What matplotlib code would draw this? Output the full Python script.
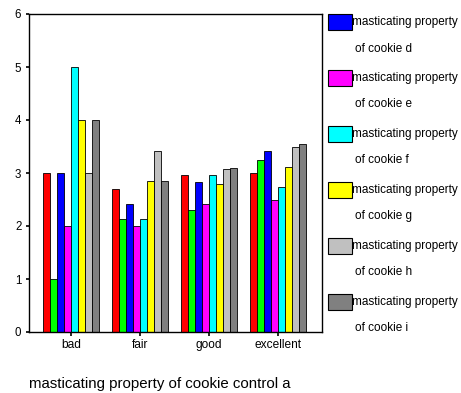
import matplotlib
matplotlib.use("Agg")
import matplotlib.pyplot as plt
import numpy as np
from matplotlib.patches import Rectangle

plt.rcParams['font.family'] = ['Liberation Sans', 'DejaVu Sans']

categories = ["bad", "fair", "good", "excellent"]
series_names = ["b", "c", "d", "e", "f", "g", "h", "i"]
series_labels = ["masticating property\nof cookie " + s for s in series_names]
values = {
    "b": [3.0, 2.70, 2.96, 3.00],
    "c": [1.0, 2.13, 2.30, 3.24],
    "d": [3.0, 2.42, 2.83, 3.42],
    "e": [2.0, 2.00, 2.42, 2.49],
    "f": [5.0, 2.13, 2.96, 2.73],
    "g": [4.0, 2.85, 2.80, 3.12],
    "h": [3.0, 3.42, 3.07, 3.49],
    "i": [4.0, 2.85, 3.10, 3.55],
}
colors = ["#FF0000", "#00FF00", "#0000FF", "#FF00FF", "#00FFFF", "#FFFF00", "#C0C0C0", "#808080"]
legend_shown = ["d", "e", "f", "g", "h", "i"]
xlabel = "masticating property of cookie control a"

W, H = 461, 393
fig = plt.figure(figsize=(W / 100, H / 100), dpi=100)
ax = fig.add_axes([29 / W, (H - 332) / H, 293 / W, 318 / H])

x = np.arange(len(categories))
bw = 0.1014
n = len(series_names)
for j, s in enumerate(series_names):
    ax.bar(x + (j - (n - 1) / 2) * bw, values[s], width=bw, color=colors[j],
           edgecolor="black", linewidth=0.6)

ax.set_xlim(-0.609, 3.638)
ax.set_ylim(0, 6)
ax.set_yticks(range(0, 7))
ax.set_xticks(x)
ax.set_xticklabels(categories)
ax.tick_params(axis="y", direction="out", length=2.5, width=1.2, labelsize=8.3, pad=3)
ax.tick_params(axis="x", direction="out", length=3, width=1.2, labelsize=8.6, pad=2)
for sp in ax.spines.values():
    sp.set_linewidth(1.0)
    sp.set_color("black")

fig.text(29 / W, (H - 388) / H, xlabel, fontsize=10.85, ha="left", va="baseline")

# legend (drawn manually, cut off like the reference)
step = 55.9
for k, s in enumerate(legend_shown):
    j = series_names.index(s)
    top = 14 + k * step
    fig.patches.append(Rectangle((328 / W, (H - top - 16) / H), 24 / W, 16 / H,
                                 transform=fig.transFigure, facecolor=colors[j],
                                 edgecolor="black", linewidth=0.8))
    l1, l2 = series_labels[j].split("\n")
    fig.text(352.5 / W, (H - (top + 8.5)) / H, l1, fontsize=8.5, ha="left", va="center")
    fig.text(355 / W, (H - (top + 34.5)) / H, l2, fontsize=8.5, ha="left", va="center")

fig.savefig("out.png", dpi=100)
